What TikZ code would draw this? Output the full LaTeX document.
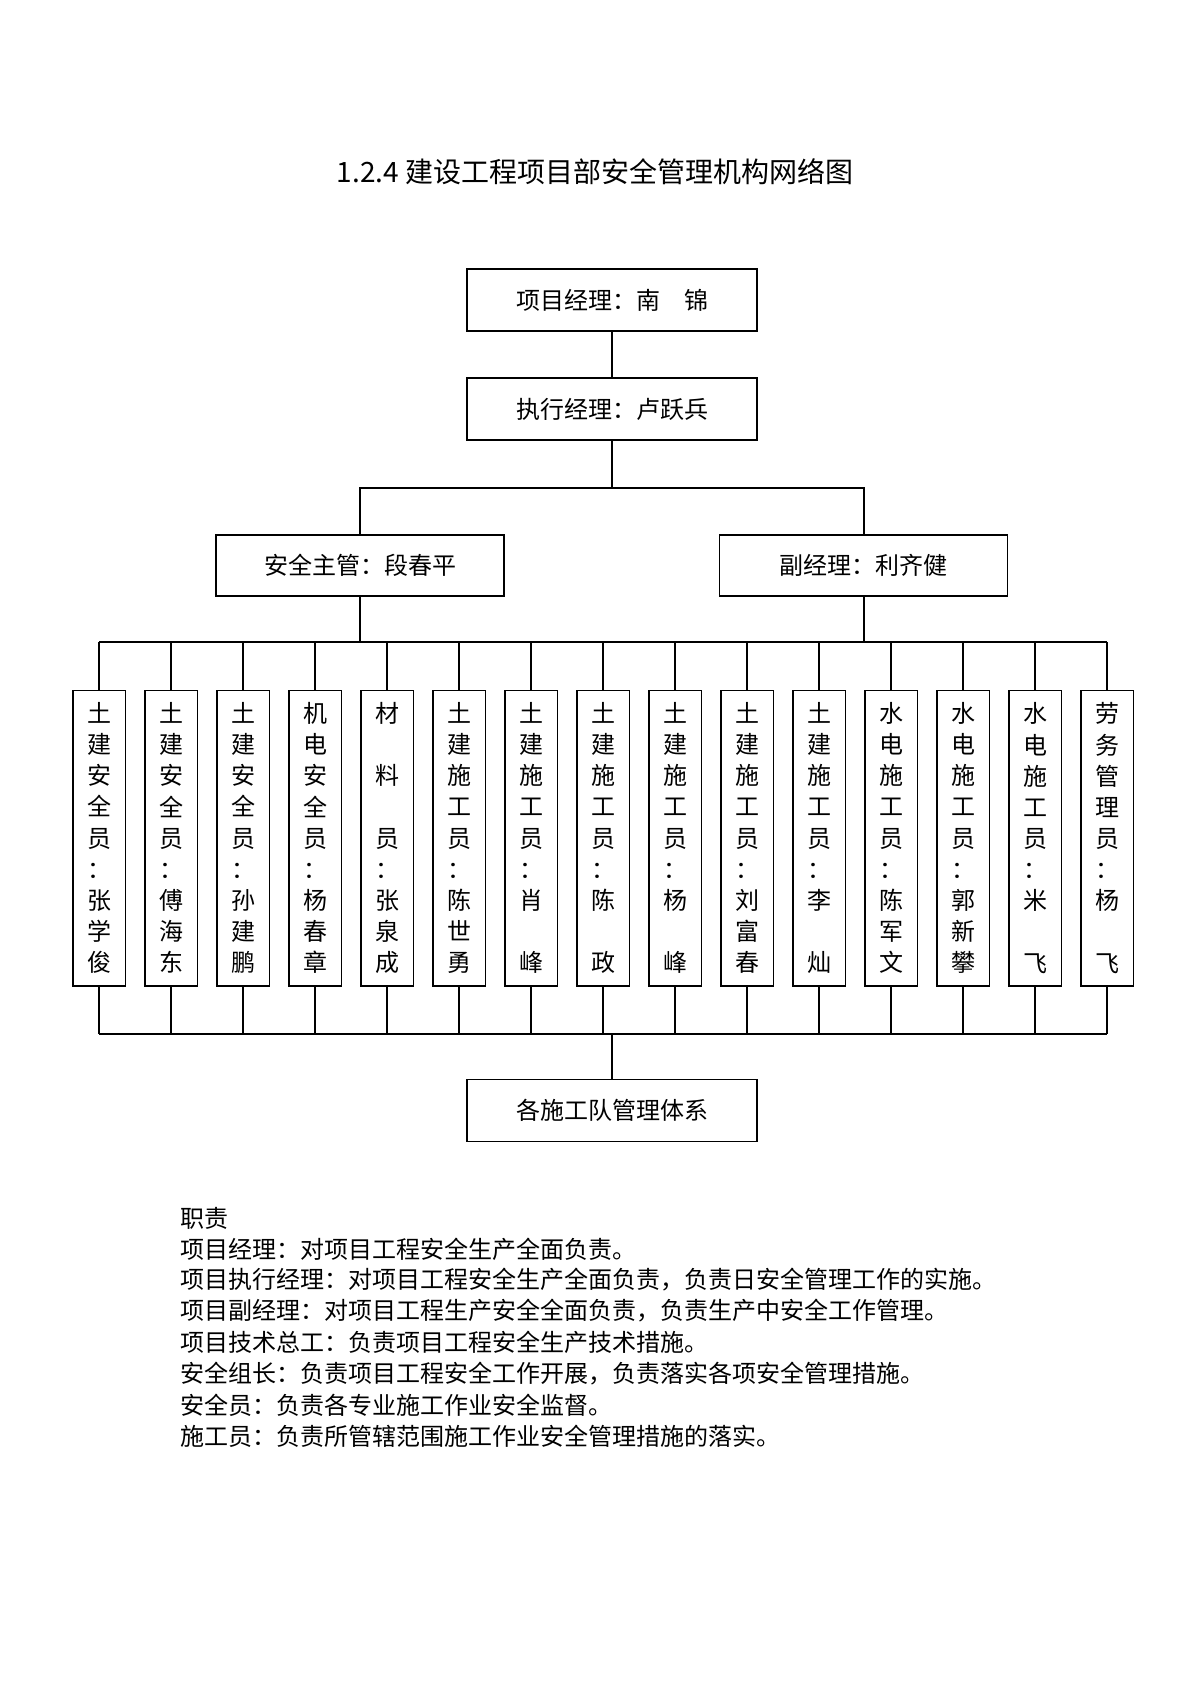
\documentclass[tikz,border=0pt]{standalone}
\usepackage{fontspec}
\setmainfont{Noto Sans CJK SC}

\tikzset{
  mainbox/.style={draw, line width=0.9pt, minimum width=145pt, minimum height=31pt, inner sep=0pt, font=\fontsize{12pt}{15.6pt}\selectfont},
  staffbox/.style={draw, line width=0.8pt, minimum width=26.3pt, minimum height=147.7pt, inner sep=0pt, align=center, font=\fontsize{12pt}{15.57pt}\selectfont},
  trunk/.style={line width=1pt},
  twig/.style={line width=0.6pt},
  duty/.style={anchor=west, inner sep=0pt, font=\fontsize{12pt}{15.6pt}\selectfont}
}

\begin{document}
\begin{tikzpicture}[x=0.5pt, y=-0.5pt]
  \useasboundingbox (0,0) rectangle (1191,1684);
  \node[font=\fontsize{14pt}{16pt}\selectfont] (title) at (595,172) {1.2.4 建设工程项目部安全管理机构网络图};

  % upper levels
  \node[mainbox] (pm) at (612,300) {项目经理：南　锦};
  \node[mainbox] (em) at (612,409) {执行经理：卢跃兵};
  \node[mainbox, minimum width=144pt, minimum height=30.5pt] (sm) at (360,565.5) {安全主管：段春平};
  \node[mainbox, minimum width=144pt, minimum height=30.5pt] (dm) at (863.5,565.5) {副经理：利齐健};

  % staff row
  \node[staffbox] (s1) at (99,838) {土\\建\\安\\全\\员\\：\\张\\学\\俊};
  \node[staffbox] (s2) at (171,838) {土\\建\\安\\全\\员\\：\\傅\\海\\东};
  \node[staffbox] (s3) at (243,838) {土\\建\\安\\全\\员\\：\\孙\\建\\鹏};
  \node[staffbox] (s4) at (315,838) {机\\电\\安\\全\\员\\：\\杨\\春\\章};
  \node[staffbox] (s5) at (387,838) {材\\　\\料\\　\\员\\：\\张\\泉\\成};
  \node[staffbox] (s6) at (459,838) {土\\建\\施\\工\\员\\：\\陈\\世\\勇};
  \node[staffbox] (s7) at (531,838) {土\\建\\施\\工\\员\\：\\肖\\　\\峰};
  \node[staffbox] (s8) at (603,838) {土\\建\\施\\工\\员\\：\\陈\\　\\政};
  \node[staffbox] (s9) at (675,838) {土\\建\\施\\工\\员\\：\\杨\\　\\峰};
  \node[staffbox] (s10) at (747,838) {土\\建\\施\\工\\员\\：\\刘\\富\\春};
  \node[staffbox] (s11) at (819,838) {土\\建\\施\\工\\员\\：\\李\\　\\灿};
  \node[staffbox] (s12) at (891,838) {水\\电\\施\\工\\员\\：\\陈\\军\\文};
  \node[staffbox] (s13) at (963,838) {水\\电\\施\\工\\员\\：\\郭\\新\\攀};
  \node[staffbox] (s14) at (1035,838) {水\\电\\施\\工\\员\\：\\米\\　\\飞};
  \node[staffbox] (s15) at (1107,838) {劳\\务\\管\\理\\员\\：\\杨\\　\\飞};

  \node[mainbox] (team) at (612,1110.5) {各施工队管理体系};

  % connectors
  \coordinate (fork) at (612,487.6);
  \coordinate (busL) at (99,642);
  \coordinate (busR) at (1107,642);
  \coordinate (lowL) at (99,1034);
  \coordinate (lowR) at (1107,1034);
  \draw[trunk] (pm) -- (em);
  \draw[trunk] (em) -- (fork);
  \draw[trunk] (sm) |- (fork) -| (dm);
  \draw[trunk] (sm) -- (sm |- busL);
  \draw[trunk] (dm) -- (dm |- busL);
  \draw[twig] (busL) -- (busR);
  \draw[twig] (lowL) -- (lowR);
  \foreach \i in {1,...,15} {
    \draw[twig] (s\i) -- (s\i |- busL);
    \draw[twig] (s\i) -- (s\i |- lowL);
  }
  \draw[trunk] (team) -- (team |- lowL);

  % duties
  \node[duty] (d0) at (180,1218) {职责};
  \node[duty] (d1) at (180,1249) {项目经理：对项目工程安全生产全面负责。};
  \node[duty] (d2) at (180,1280) {项目执行经理：对项目工程安全生产全面负责，负责日安全管理工作的实施。};
  \node[duty] (d3) at (180,1311) {项目副经理：对项目工程生产安全全面负责，负责生产中安全工作管理。};
  \node[duty] (d4) at (180,1342.5) {项目技术总工：负责项目工程安全生产技术措施。};
  \node[duty] (d5) at (180,1373.6) {安全组长：负责项目工程安全工作开展，负责落实各项安全管理措施。};
  \node[duty] (d6) at (180,1404.8) {安全员：负责各专业施工作业安全监督。};
  \node[duty] (d7) at (180,1436) {施工员：负责所管辖范围施工作业安全管理措施的落实。};
\end{tikzpicture}
\end{document}
